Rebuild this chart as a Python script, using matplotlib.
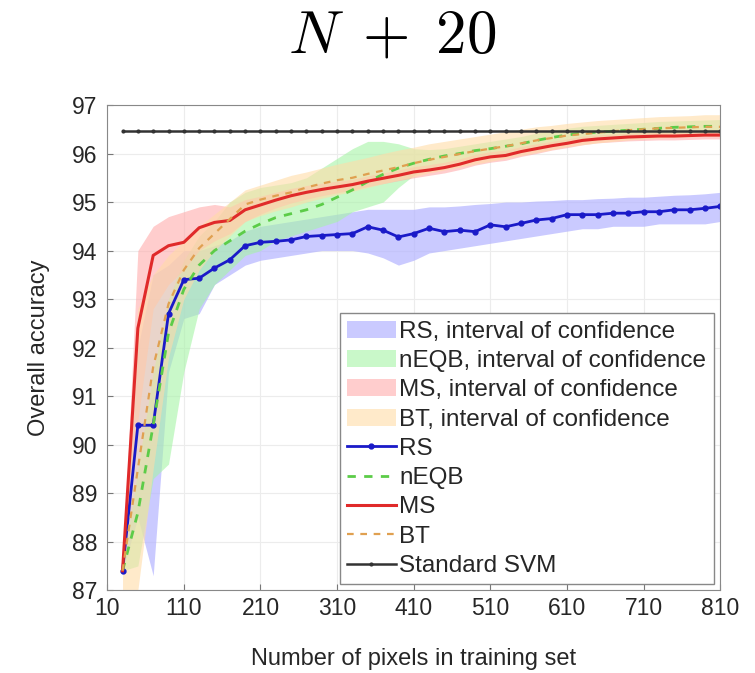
import numpy as np
import matplotlib
matplotlib.use("Agg")
import matplotlib.pyplot as plt

plt.rcParams['font.family'] = ['Liberation Sans', 'DejaVu Sans']
plt.rcParams['mathtext.fontset'] = 'cm'

# training set sizes (N + 20 steps)
n_pixels = [30, 50, 70, 90, 110, 130, 150, 170, 190, 210,
            230, 250, 270, 290, 310, 330, 350, 370, 390, 410,
            430, 450, 470, 490, 510, 530, 550, 570, 590, 610,
            630, 650, 670, 690, 710, 730, 750, 770, 790, 810]

rs = [87.4, 90.4, 90.4, 92.7, 93.4, 93.43, 93.64, 93.81, 94.10, 94.17,
      94.19, 94.22, 94.29, 94.31, 94.33, 94.35, 94.49, 94.42, 94.28, 94.35,
      94.46, 94.39, 94.42, 94.39, 94.53, 94.49, 94.56, 94.63, 94.66, 94.74,
      94.74, 94.74, 94.77, 94.77, 94.80, 94.80, 94.84, 94.84, 94.87, 94.91]
rs_lo = [87.4, 88.5, 87.3, 91.5, 92.6, 92.7, 93.3, 93.5, 93.7, 93.8,
         93.85, 93.9, 93.95, 94.0, 94.0, 94.0, 93.95, 93.85, 93.7, 93.8,
         93.95, 94.0, 94.05, 94.1, 94.15, 94.2, 94.25, 94.3, 94.35, 94.4,
         94.45, 94.45, 94.5, 94.5, 94.5, 94.55, 94.55, 94.55, 94.55, 94.6]
rs_hi = [87.4, 92.0, 93.5, 93.7, 94.0, 94.0, 94.1, 94.2, 94.4, 94.5,
         94.55, 94.6, 94.65, 94.7, 94.75, 94.8, 94.85, 94.85, 94.85, 94.85,
         94.9, 94.9, 94.92, 94.95, 94.97, 95.0, 95.0, 95.02, 95.03, 95.05,
         95.05, 95.07, 95.08, 95.1, 95.1, 95.12, 95.14, 95.15, 95.17, 95.2]

neqb = [87.4, 88.6, 90.4, 92.3, 93.2, 93.7, 94.0, 94.2, 94.4, 94.55,
        94.68, 94.76, 94.84, 94.95, 95.1, 95.25, 95.42, 95.57, 95.7, 95.8,
        95.88, 95.95, 96.0, 96.06, 96.1, 96.15, 96.2, 96.27, 96.33, 96.38,
        96.42, 96.44, 96.46, 96.48, 96.5, 96.52, 96.54, 96.55, 96.56, 96.56]
neqb_lo = [87.4, 87.5, 89.3, 89.6, 91.5, 92.8, 93.3, 93.6, 93.9, 94.0,
           94.2, 94.3, 94.4, 94.5, 94.6, 94.8, 94.9, 95.0, 95.3, 95.55,
           95.7, 95.78, 95.84, 95.9, 95.95, 96.0, 96.05, 96.12, 96.18, 96.24,
           96.28, 96.3, 96.33, 96.35, 96.37, 96.39, 96.41, 96.42, 96.43, 96.43]
neqb_hi = [87.4, 89.5, 91.5, 93.0, 93.8, 94.3, 94.6, 95.0, 95.2, 95.3,
           95.35, 95.4, 95.5, 95.7, 95.9, 96.1, 96.25, 96.25, 96.2, 96.1,
           96.08, 96.1, 96.15, 96.2, 96.25, 96.3, 96.35, 96.42, 96.48, 96.52,
           96.56, 96.58, 96.6, 96.62, 96.64, 96.66, 96.67, 96.68, 96.69, 96.7]

ms = [87.4, 92.4, 93.9, 94.1, 94.17, 94.47, 94.58, 94.62, 94.84, 94.94,
      95.04, 95.13, 95.2, 95.26, 95.31, 95.36, 95.43, 95.49, 95.55, 95.62,
      95.66, 95.71, 95.78, 95.87, 95.93, 95.96, 96.04, 96.1, 96.16, 96.21,
      96.27, 96.3, 96.32, 96.34, 96.35, 96.36, 96.36, 96.37, 96.38, 96.38]
ms_lo = [87.4, 90.5, 92.8, 93.3, 93.6, 94.0, 94.2, 94.35, 94.6, 94.75,
         94.88, 94.98, 95.06, 95.13, 95.19, 95.25, 95.32, 95.38, 95.44, 95.5,
         95.55, 95.6, 95.67, 95.76, 95.82, 95.86, 95.94, 96.0, 96.07, 96.12,
         96.18, 96.22, 96.24, 96.26, 96.27, 96.28, 96.28, 96.29, 96.3, 96.3]
ms_hi = [87.4, 94.0, 94.5, 94.7, 94.8, 94.9, 94.95, 94.9, 95.05, 95.12,
         95.2, 95.28, 95.34, 95.39, 95.43, 95.47, 95.54, 95.6, 95.66, 95.73,
         95.77, 95.82, 95.89, 95.98, 96.04, 96.07, 96.14, 96.2, 96.25, 96.3,
         96.36, 96.38, 96.4, 96.42, 96.43, 96.44, 96.44, 96.45, 96.46, 96.46]

bt = [87.4, 89.5, 91.6, 92.9, 93.6, 94.05, 94.35, 94.65, 94.95, 95.05,
      95.13, 95.2, 95.3, 95.38, 95.45, 95.5, 95.58, 95.65, 95.72, 95.8,
      95.87, 95.93, 95.99, 96.05, 96.1, 96.15, 96.21, 96.27, 96.32, 96.37,
      96.4, 96.43, 96.46, 96.48, 96.5, 96.52, 96.53, 96.54, 96.55, 96.55]
bt_lo = [86.9, 87.0, 89.5, 91.8, 93.0, 93.6, 94.0, 94.3, 94.6, 94.72,
         94.82, 94.9, 95.0, 95.08, 95.15, 95.22, 95.3, 95.38, 95.45, 95.52,
         95.6, 95.66, 95.72, 95.78, 95.84, 95.9, 95.96, 96.02, 96.08, 96.14,
         96.18, 96.22, 96.25, 96.28, 96.3, 96.32, 96.33, 96.34, 96.35, 96.35]
bt_hi = [87.6, 92.8, 93.5, 93.9, 94.2, 94.5, 94.75, 95.0, 95.25, 95.35,
         95.45, 95.55, 95.62, 95.7, 95.78, 95.85, 95.92, 96.0, 96.07, 96.13,
         96.2, 96.25, 96.3, 96.35, 96.4, 96.45, 96.5, 96.55, 96.58, 96.62,
         96.65, 96.68, 96.7, 96.72, 96.74, 96.76, 96.77, 96.78, 96.8, 96.8]

svm_acc = 96.47
x_ticks = [10, 110, 210, 310, 410, 510, 610, 710, 810]
y_ticks = [87, 88, 89, 90, 91, 92, 93, 94, 95, 96, 97]

fig = plt.figure(figsize=(7.55, 6.73), dpi=100)
ax = fig.add_axes([0.142, 0.123, 0.812, 0.721])

# confidence bands
ax.fill_between(n_pixels, rs_lo, rs_hi, color='#b4b4ff', alpha=0.7, lw=0,
                label='RS, interval of confidence')
ax.fill_between(n_pixels, neqb_lo, neqb_hi, color='#a6f4a6', alpha=0.6, lw=0,
                label='nEQB, interval of confidence')
ax.fill_between(n_pixels, ms_lo, ms_hi, color='#ffacac', alpha=0.6, lw=0,
                label='MS, interval of confidence')
ax.fill_between(n_pixels, bt_lo, bt_hi, color='#ffdca8', alpha=0.6, lw=0,
                label='BT, interval of confidence')

# mean curves
ax.plot(n_pixels, rs, color='#1a1ac8', lw=2, marker='.', ms=7, label='RS')
ax.plot(n_pixels, neqb, color='#5ccc48', lw=2, ls=(0, (3, 3)), label='nEQB')
ax.plot(n_pixels, ms, color='#e02a2a', lw=2.2, label='MS')
ax.plot(n_pixels, bt, color='#e0a050', lw=1.6, ls=(0, (3, 3)), label='BT')
ax.plot(n_pixels, [svm_acc] * len(n_pixels), color='#333333', lw=1.8,
        marker='.', ms=4, label='Standard SVM')

ax.set_xlim(10, 810)
ax.set_ylim(87, 97)
ax.set_xticks(x_ticks)
ax.set_yticks(y_ticks)
ax.tick_params(direction='in', labelsize=16.5, length=4, color='#777777',
               labelcolor='#262626')
ax.tick_params(axis='y', pad=7)
ax.tick_params(axis='x', pad=5)
ax.grid(True, color='#ececec', lw=0.8)
ax.set_axisbelow(True)
for sp in ax.spines.values():
    sp.set_color('#888888')

ax.set_xlabel('Number of pixels in training set', fontsize=17, labelpad=20,
              color='#262626')
ax.set_ylabel('Overall accuracy', fontsize=17, labelpad=16, color='#262626')

leg = ax.legend(loc='lower right', bbox_to_anchor=(0.989, 0.012), fontsize=17.5,
                fancybox=False, framealpha=1, edgecolor='#888888',
                labelspacing=0.3, handlelength=2.0, handletextpad=0.15,
                borderpad=0.3, borderaxespad=0)
for t in leg.get_texts():
    t.set_color('#262626')

fig.text(0.52, 0.945, r'$N\;+\;20$', fontsize=44, ha='center', va='center')

fig.savefig('out.png', dpi=100)
